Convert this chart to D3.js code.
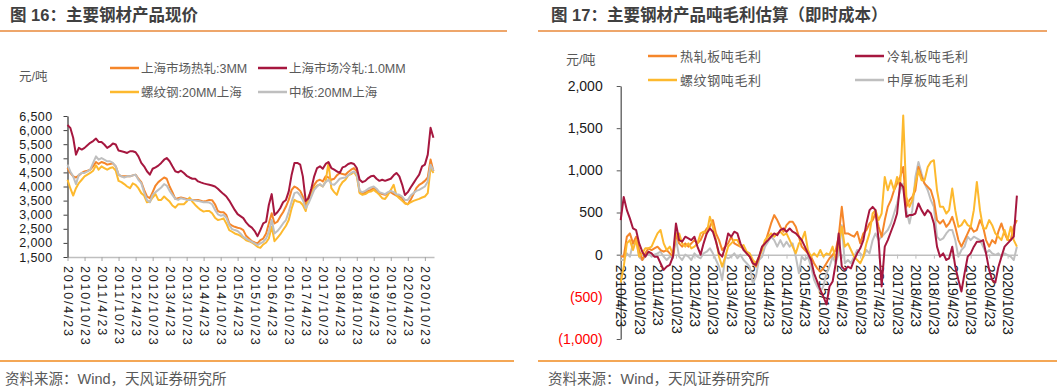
<!DOCTYPE html>
<html><head><meta charset="utf-8">
<script src="https://cdn.jsdelivr.net/npm/d3@7"></script>
<style>
body{margin:0;background:#fff;}
svg text{font-family:"Liberation Sans","Noto Sans CJK SC",Arial,sans-serif;}
</style></head><body>
<svg id="c" width="1057" height="392"></svg>
<script>
// ---------- DATA ----------
const startDate = "2010/4/23";
const obsCount = 130; // monthly observations 2010/4/23 .. 2021/1/23
const tickLabels = ["2010/4/23","2010/10/23","2011/4/23","2011/10/23","2012/4/23","2012/10/23","2013/4/23","2013/10/23","2014/4/23","2014/10/23","2015/4/23","2015/10/23","2016/4/23","2016/10/23","2017/4/23","2017/10/23","2018/4/23","2018/10/23","2019/4/23","2019/10/23","2020/4/23","2020/10/23"];

// chart 16 : prices (元/吨)
const priceTicks = [1500,2000,2500,3000,3500,4000,4500,5000,5500,6000,6500];
const priceNames = ["上海市场热轧:3MM","上海市场冷轧:1.0MM","螺纹钢:20MM上海","中板:20MM上海"];
const hotRolled = [4655,4480,4360,4320,4395,4480,4535,4560,4595,4715,4870,4800,4870,4835,4775,4800,4820,4715,4420,4360,4360,4360,4360,4395,4420,4275,4155,3880,3645,3585,3800,4035,4155,4240,4320,4275,4000,3800,3560,3585,3610,3585,3560,3550,3525,3525,3525,3500,3465,3490,3525,3515,3370,3130,3085,3085,2990,2690,2610,2570,2540,
2515,2455,2250,2155,2060,2015,1980,2100,2155,2335,2690,3050,2690,2750,2930,3085,3290,3525,3880,4000,3940,3845,3645,3325,3645,3820,4060,4200,4240,4180,4360,4320,4240,4275,4395,4480,4440,4420,4515,4595,4655,4535,3800,3730,3800,3845,3880,3940,3845,3765,3730,3705,3765,3800,3730,3680,3645,3585,3405,3370,3525,3730,3940,4060,4120,4200,4320,4955,4540];
const coldRolled = [6180,6080,5730,5130,5370,5310,5370,5465,5550,5610,5700,5580,5580,5490,5370,5430,5525,5490,5275,5250,5225,5190,5250,5250,5215,5070,4835,4715,4540,4420,4630,4680,4740,4835,4950,5010,4895,4715,4540,4500,4560,4480,4380,4320,4275,4275,4180,4145,4110,4085,4060,4035,4000,3920,3825,3730,3645,3500,3330,3170,3020,
2950,2880,2728,2610,2540,2420,2240,2455,2690,2750,3345,3730,2990,3085,3230,3440,3525,3825,4420,4835,4835,4775,4360,3490,3585,3940,4360,4655,4715,4630,4800,4870,4655,4595,4540,4480,4680,4715,4800,4835,4800,4655,4240,4155,4200,4300,4360,4380,4275,4200,4240,4200,4240,4275,4395,4480,4360,4060,3700,3800,3965,4120,4275,4420,4715,4775,5130,6080,5730];
const rebar = [4240,3940,3680,3940,4120,4240,4360,4420,4480,4560,4750,4595,4715,4655,4595,4655,4680,4560,4200,4155,4085,4000,3940,4110,4060,3940,3765,3680,3440,3465,3610,3730,3525,3525,3645,3560,3465,3325,3250,3370,3370,3370,3465,3610,3465,3345,3250,3170,3110,3135,3135,3050,2895,2810,2835,2870,2690,2455,2395,2335,2300,
2250,2180,2095,2060,2015,1945,1860,1825,1945,2015,2155,2575,2060,2180,2300,2455,2610,2810,3225,3525,3465,3440,3345,3130,3585,3730,3940,4035,4060,4000,4180,4835,3940,3800,3705,4000,4155,4240,4395,4440,4515,4360,3765,3705,3730,3800,3820,3880,3800,3705,3585,3560,3705,3880,4060,3680,3585,3490,3405,3370,3440,3490,3525,3560,3610,3645,3765,4655,4480];
const plate = [4775,4535,4360,4085,4420,4480,4480,4535,4595,4835,5070,4950,5010,4950,4895,4895,4835,4715,4420,4360,4320,4360,4360,4395,4420,4240,4120,3800,3525,3440,3705,3800,3880,3965,4085,4035,3845,3705,3560,3525,3585,3560,3525,3525,3525,3500,3490,3465,3440,3440,3430,3370,3170,3015,2965,2990,2895,2630,2490,2455,2420,
2335,2215,2155,2100,2040,1980,1920,1980,2040,2155,2395,2810,2335,2420,2540,2690,2810,3110,3465,3765,3800,3680,3525,3230,3405,3645,3880,4000,4085,4000,4155,4240,4085,4060,4155,4275,4300,4320,4395,4480,4535,4420,3845,3800,3845,3920,3965,4000,3920,3800,3765,3730,3800,3845,3800,3730,3705,3645,3525,3525,3680,3765,3845,3880,3940,4000,4180,4775,4560];

// chart 17 : gross margin per ton (元/吨)
const marginTicks = [-1000,-500,0,500,1000,1500,2000];
const marginNames = ["热轧板吨毛利","冷轧板吨毛利","螺纹钢吨毛利","中厚板吨毛利"];
const hrMargin = [-20,-24,213,252,134,213,55,-63,16,75,55,75,95,55,35,55,16,-24,252,134,95,134,95,134,173,134,173,252,311,331,410,252,173,55,95,134,213,134,114,95,75,16,-24,-102,-142,-43,95,134,252,370,469,410,331,272,350,390,390,331,
213,95,55,16,-24,-102,-162,-201,-162,-102,-43,-4,55,213,567,252,252,232,213,272,134,252,292,370,410,488,331,213,410,567,646,764,843,922,1040,567,646,686,764,1040,922,843,804,764,646,410,370,410,331,370,449,331,173,95,173,252,331,272,292,410,331,173,95,173,134,272,370,252,173,173,331,410];
const crMargin = [410,685,528,430,311,290,134,35,-24,35,16,-24,-24,-102,-181,-142,-122,-24,370,173,154,213,193,173,213,95,0,134,252,311,272,154,16,-24,95,252,213,272,252,134,55,16,-24,-102,-122,-24,95,134,173,213,252,232,292,311,272,311,272,252,
213,173,95,16,-63,-221,-319,-418,-496,-590,-378,-319,-102,252,-142,-181,-142,-162,-63,16,75,173,370,528,567,528,173,-378,95,173,272,370,488,850,800,449,469,469,488,607,528,469,528,488,370,95,-24,16,-63,-43,95,-142,-299,-437,-221,-24,16,95,154,154,173,16,-181,-300,-330,-150,-24,95,134,173,213,700];
const rebarMargin = [-330,-142,134,173,55,173,-24,16,75,75,95,173,252,292,134,55,95,0,252,252,134,95,134,75,95,134,252,272,252,449,331,173,-24,-142,-24,95,134,173,173,95,114,35,16,-63,-102,-24,55,173,213,252,213,252,272,232,252,173,95,16,
134,173,272,55,-24,16,-24,55,-24,16,0,95,-63,134,331,95,134,55,-24,-63,-102,-24,134,252,488,528,410,488,922,764,883,764,922,804,1650,686,567,646,843,1000,883,883,1040,1100,1120,764,567,567,488,528,784,528,331,350,410,350,331,528,863,528,311,311,410,350,252,213,173,292,173,331,173,95];
const plateMargin = [-63,-63,16,-24,134,173,-24,-63,-24,16,-24,0,16,35,-24,-63,-24,-43,193,-24,-63,0,-24,-63,16,-24,-43,16,35,75,16,-63,-142,-300,-24,-43,-24,16,-43,0,-63,-102,-142,-339,-260,-63,-24,95,154,213,173,95,173,95,154,95,134,-24,
-221,-24,-63,-24,-142,-299,-378,-437,-378,-221,-142,-24,-102,16,350,-102,-63,-102,-24,55,16,-24,55,16,173,252,173,213,252,292,370,488,607,764,843,528,370,528,922,1099,961,843,764,646,567,213,173,193,252,292,292,173,-24,55,95,213,173,213,193,173,95,16,55,16,-4,16,-24,16,-4,-24,-63,95];

const colors = ["#F5862A","#A6173F","#FDB92E","#BFBFBF"];

// ---------- SETUP ----------
const parse = d3.timeParse("%Y/%m/%d");
const start = parse(startDate);
const dates = d3.range(obsCount).map(i => d3.timeMonth.offset(start, i));
const tickDates = tickLabels.map(parse);
const endDate = new Date(2021, 0, 29);
const svg = d3.select("#c");
svg.append("rect").attr("width",1057).attr("height",392).attr("fill","#fff");

const titleColor = "#404040", ruleColor = "#E8883A", textGray = "#595959";

function header(x0, x1, tx, title){
  svg.append("text").attr("x",tx).attr("y",21).attr("font-size",16.5).attr("font-weight","bold")
    .attr("fill",titleColor).text(title);
  svg.append("line").attr("x1",x0).attr("x2",x1).attr("y1",31).attr("y2",31)
    .attr("stroke",ruleColor).attr("stroke-width",1.5);
}
function footer(x0, x1, tx){
  svg.append("line").attr("x1",x0).attr("x2",x1).attr("y1",361).attr("y2",361)
    .attr("stroke","#F08A1E").attr("stroke-width",1.5);
  svg.append("text").attr("x",tx).attr("y",384).attr("font-size",14.5).attr("fill",textGray)
    .text("资料来源：Wind，天风证券研究所");
}
header(0, 507, 10, "图 16：主要钢材产品现价");
header(538, 1047, 551, "图 17：主要钢材产品吨毛利估算（即时成本）");
footer(0, 514, 5);
footer(538, 1057, 548);

// ---------- CHART 16 ----------
const xL = d3.scaleTime().domain([start, endDate]).range([67.5, 434]);
const yL = d3.scaleLinear().domain([1500, 6500]).range([257, 116]);

const gxL = svg.append("g").attr("transform","translate(0,257)")
  .call(d3.axisBottom(xL).tickValues(tickDates).tickSize(4).tickSizeOuter(0).tickFormat((d,i)=>tickLabels[i]));
gxL.select(".domain").attr("stroke","#BFBFBF").attr("stroke-width",1.5);
gxL.selectAll(".tick line").attr("stroke","#A6A6A6");
gxL.selectAll("text").attr("transform","rotate(90)").attr("x",9).attr("y",0).attr("dy","0.35em")
  .style("text-anchor","start").attr("font-size",12.5).attr("letter-spacing","1.8px").attr("fill","#1a1a1a");

const gyL = svg.append("g").attr("transform","translate(67.5,0)")
  .call(d3.axisLeft(yL).tickValues(priceTicks).tickSize(4).tickSizeOuter(0).tickFormat(d3.format(",")));
gyL.select(".domain").attr("stroke","#404040").attr("stroke-width",1.3);
gyL.selectAll(".tick line").attr("stroke","#404040");
gyL.selectAll("text").attr("x",-15).attr("font-size",12.5).attr("letter-spacing","0.4px").attr("fill","#1a1a1a");

const lineL = d3.line().x((d,i)=>xL(dates[i])).y(d=>yL(d));
const priceSeries = [hotRolled, coldRolled, rebar, plate];
[0,2,3,1].forEach(k=>{
  svg.append("path").datum(priceSeries[k]).attr("d",lineL).attr("fill","none")
    .attr("stroke",colors[k]).attr("stroke-width",2).attr("stroke-linejoin","round");
});

svg.append("text").attr("x",19).attr("y",81).attr("font-size",12.5).attr("fill",textGray).text("元/吨");
const legL = [[110,68],[258,68],[110,92],[258,92]];
legL.forEach((p,k)=>{
  svg.append("line").attr("x1",p[0]).attr("x2",p[0]+29).attr("y1",p[1]).attr("y2",p[1])
    .attr("stroke",colors[k]).attr("stroke-width",2.5);
  svg.append("text").attr("x",p[0]+31).attr("y",p[1]).attr("dy","0.36em").attr("font-size",12.5)
    .attr("fill",textGray).text(priceNames[k]);
});

// ---------- CHART 17 ----------
const xR = d3.scaleTime().domain([start, endDate]).range([620.7, 1017.5]);
const yR = d3.scaleLinear().domain([-1000, 2000]).range([339, 86]);

const gyR = svg.append("g").attr("transform","translate(620.7,0)")
  .call(d3.axisLeft(yR).tickValues(marginTicks).tickSize(4).tickSizeOuter(0)
    .tickFormat(d => d < 0 ? "(" + d3.format(",")(-d) + ")" : d3.format(",")(d)));
gyR.select(".domain").attr("stroke","#595959").attr("stroke-width",1.3);
gyR.selectAll(".tick line").attr("stroke","#595959");
gyR.selectAll("text").attr("x",-18).attr("font-size",14)
  .attr("fill", d => d < 0 ? "#FF0000" : "#1a1a1a");

const gxR = svg.append("g").attr("transform","translate(0," + yR(0) + ")")
  .call(d3.axisBottom(xR).tickValues(tickDates).tickSize(4).tickSizeOuter(0).tickFormat((d,i)=>tickLabels[i]));
gxR.select(".domain").attr("stroke","#BFBFBF").attr("stroke-width",1.5);
gxR.selectAll(".tick line").attr("stroke","#BFBFBF");
gxR.selectAll("text").attr("transform","rotate(90)").attr("x",10).attr("y",0).attr("dy","0.35em")
  .style("text-anchor","start").attr("font-size",14).attr("fill","#1a1a1a");

const lineR = d3.line().x((d,i)=>xR(dates[i])).y(d=>yR(d));
const marginSeries = [hrMargin, crMargin, rebarMargin, plateMargin];
[3,0,2,1].forEach(k=>{
  svg.append("path").datum(marginSeries[k]).attr("d",lineR).attr("fill","none")
    .attr("stroke",colors[k]).attr("stroke-width",2).attr("stroke-linejoin","round");
});

svg.append("text").attr("x",566).attr("y",64).attr("font-size",13).attr("fill",textGray).text("元/吨");
const legR = [[648,56],[855,56],[648,80],[855,80]];
legR.forEach((p,k)=>{
  svg.append("line").attr("x1",p[0]).attr("x2",p[0]+29).attr("y1",p[1]).attr("y2",p[1])
    .attr("stroke",colors[k]).attr("stroke-width",2.5);
  svg.append("text").attr("x",p[0]+32).attr("y",p[1]).attr("dy","0.36em").attr("font-size",13)
    .attr("letter-spacing","0.6px").attr("fill",textGray).text(marginNames[k]);
});
</script>
</body></html>
